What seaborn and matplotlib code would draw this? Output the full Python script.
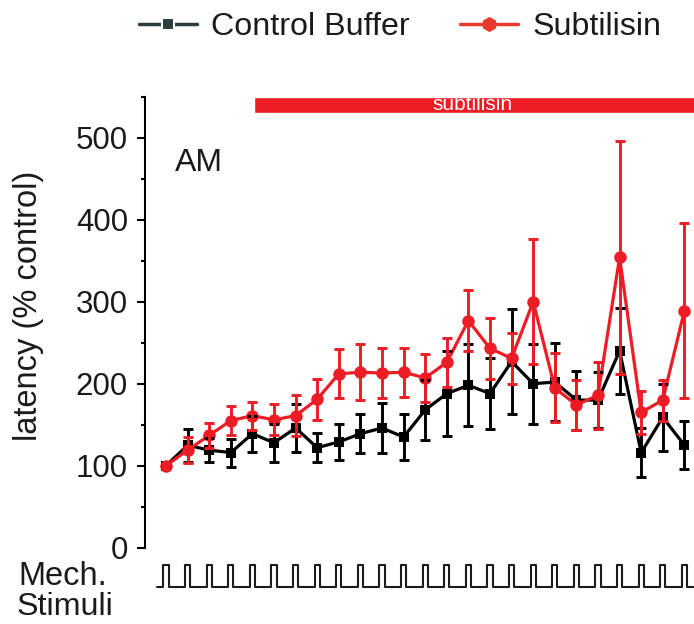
import numpy as np
import pandas as pd
import matplotlib
matplotlib.use("Agg")
import matplotlib.pyplot as plt
import seaborn as sns
from matplotlib.lines import Line2D
from matplotlib.ticker import MultipleLocator

# ---- data ----
stimulus = list(range(1, 26))
control_mean = [100, 125, 119, 116, 139, 128, 146, 122, 129, 139, 146, 135, 168,
                188, 198, 188, 227, 200, 202, 180, 180, 240, 116, 159, 125]
control_sem = [0, 20, 15, 17, 22, 23, 29, 18, 22, 24, 31, 28, 37,
               52, 50, 43, 64, 49, 48, 36, 34, 52, 30, 41, 29]
subt_mean = [100, 119, 137, 155, 161, 156, 161, 181, 212, 214, 213, 214, 207,
             226, 277, 243, 231, 300, 195, 174, 186, 354, 165, 180, 289]
subt_sem = [0, 16, 15, 18, 17, 19, 25, 25, 30, 34, 31, 30, 29,
            30, 37, 37, 31, 76, 42, 30, 41, 142, 26, 25, 107]
series_names = ["Control Buffer", "Subtilisin"]
y_ticks = [0, 100, 200, 300, 400, 500]

RED = "#ee1c25"
BLACK = "#000000"
TXT = "#1a1a1a"

sns.set_theme(style="white")
plt.rcParams["font.family"] = ["Liberation Sans", "DejaVu Sans"]

fig = plt.figure(figsize=(6.94, 6.24), dpi=100)
ax = fig.add_axes([145 / 694, 76.3 / 624, 549 / 694, 451 / 624])

df = pd.DataFrame({"stim": stimulus, "control": control_mean, "subt": subt_mean})

# lines + markers
sns.lineplot(data=df, x="stim", y="control", ax=ax, color=BLACK, linewidth=2.3,
             marker="s", markersize=7.5, markeredgewidth=0, zorder=2)
sns.lineplot(data=df, x="stim", y="subt", ax=ax, color=RED, linewidth=2.3,
             marker="o", markersize=9, markeredgewidth=0, zorder=3)
# error bars
ax.errorbar(stimulus, control_mean, yerr=control_sem, fmt="none", ecolor=BLACK,
            elinewidth=2.1, capsize=3.8, capthick=2.1, zorder=4)
ax.errorbar(stimulus, subt_mean, yerr=subt_sem, fmt="none", ecolor=RED,
            elinewidth=2.1, capsize=3.8, capthick=2.1, zorder=5)

ax.set_xlim(1 - 21 / 21.6, 1 + (694 - 166) / 21.6)
ax.set_ylim(0, 550)
ax.set_yticks(y_ticks)
ax.yaxis.set_minor_locator(MultipleLocator(50))
ax.set_xticks([])
ax.set_xlabel("")
ax.set_ylabel("")
for s in ["top", "right", "bottom"]:
    ax.spines[s].set_visible(False)
ax.spines["left"].set_linewidth(1.5)
ax.spines["left"].set_color(BLACK)
ax.tick_params(axis="y", which="major", left=True, length=5.8, width=1.5,
               pad=6.5, labelsize=22.5, direction="out", color=BLACK, labelcolor=TXT)
ax.tick_params(axis="y", which="minor", left=True, length=3, width=1.5,
               direction="out", color=BLACK)

# subtilisin application bar
bar_left = 5.07
ax.barh(y=540, width=30, left=bar_left, height=20, color=RED, zorder=1)
ax.text(15.2, 540, "subtilisin", color="white", fontsize=15, ha="center",
        va="center", zorder=6)

ax.text(1.42, 469, "AM", fontsize=23, ha="left", va="center", color=TXT)

# mechanical stimuli pulse train
base, top, w = -47.6, -21.1, 0.12
xs, ys = [0.58], [base]
for s in stimulus:
    xs += [s - w, s - w, s + w, s + w]
    ys += [base, top, top, base]
xs.append(26.5)
ys.append(base)
ax.plot(xs, ys, color="#1a1a1a", lw=1.5, clip_on=False, zorder=2)

fig.text(18 / 694, 1 - 585 / 624, "Mech.", fontsize=23.5, ha="left",
         va="baseline", color=TXT)
fig.text(17 / 694, 1 - 615 / 624, "Stimuli", fontsize=23.2, ha="left",
         va="baseline", color=TXT)

fig.text(28.5 / 694, 1 - 306 / 624, "latency (% control)", rotation=90,
         fontsize=23.5, ha="center", va="center", color=TXT)

handles = [
    Line2D([], [], color="#2d3d3d", lw=2.5, marker="s", markersize=9,
           markeredgecolor="white", markeredgewidth=1.5),
    Line2D([], [], color="#e8392e", lw=2.5, marker="h", markersize=11,
           markeredgewidth=0),
]
fig.legend(handles, series_names, loc="center", bbox_to_anchor=(400 / 694, 1 - 27 / 624),
           ncol=2, frameon=False, fontsize=23.2, handlelength=1.8,
           handletextpad=0.45, columnspacing=1.55, labelcolor=TXT)

fig.savefig("out.png", dpi=100)
